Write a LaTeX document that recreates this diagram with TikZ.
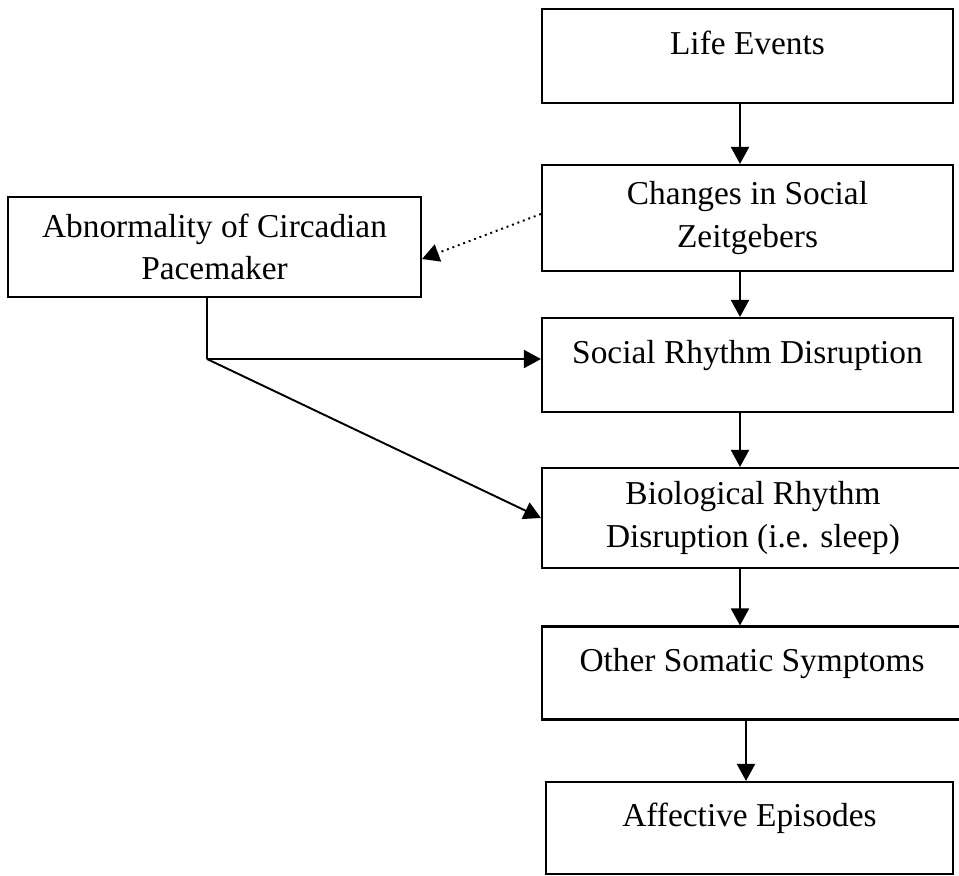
\documentclass[tikz,border=0pt]{standalone}
\usepackage{fontspec}
\setmainfont{Liberation Serif}
\usetikzlibrary{arrows.meta}
\tikzset{
	stage/.style={draw, line width=1.2pt, inner sep=0pt, align=center, font=\fontsize{19}{24}\selectfont},
	hightext/.style={text height=0.5cm, text depth=0.55cm},
	arr/.style={line width=1.1pt, -{Triangle[length=3.4mm, width=3.6mm]}}
}
\begin{document}
\begin{tikzpicture}
		\useasboundingbox (0,0) rectangle (19.18,-17.5);
		\node[stage, hightext, minimum width=8.22cm, minimum height=1.88cm] (life) at (14.95,-1.12) {Life Events};
		\node[stage, minimum width=8.22cm, minimum height=2.12cm] (changes) at (14.95,-4.36) {Changes in Social\\Zeitgebers};
		\node[stage, hightext, minimum width=8.22cm, minimum height=1.88cm] (social) at (14.95,-7.30) {Social Rhythm Disruption};
		\node[stage, minimum width=8.44cm, minimum height=2.0cm] (bio) at (15.06,-10.36) {Biological Rhythm\\Disruption (i.e. sleep)};
		\node[stage, hightext, minimum width=8.40cm, minimum height=1.86cm] (other) at (15.04,-13.46) {Other Somatic Symptoms};
		\node[stage, hightext, minimum width=8.14cm, minimum height=1.84cm] (affect) at (14.99,-16.56) {Affective Episodes};
		\node[stage, minimum width=8.26cm, minimum height=2.0cm] (pace) at (4.29,-4.94) {Abnormality of Circadian\\Pacemaker};
		% main chain
		\draw[arr] ([xshift=-0.15cm]life.south) -- ([xshift=-0.15cm]life.south |- changes.north);
		\draw[arr] ([xshift=-0.15cm]changes.south) -- ([xshift=-0.15cm]changes.south |- social.north);
		\draw[arr] ([xshift=-0.15cm]social.south) -- ([xshift=-0.15cm]social.south |- bio.north);
		\draw[arr] ([xshift=-0.15cm]changes.south |- bio.south) -- ([xshift=-0.15cm]changes.south |- other.north);
		\draw[arr] ([xshift=-0.07cm]affect.north |- other.south) -- ([xshift=-0.07cm]affect.north);
		% pacemaker
		\draw[arr, dash pattern=on 1.1pt off 2.2pt] ([yshift=0.08cm]changes.west) -- ([yshift=-0.24cm]pace.east);
		\coordinate (split) at (4.14,-7.18);
		\draw[line width=1.1pt] ([xshift=-0.15cm]pace.south) -- (split);
		\draw[arr] (split) -- (split -| social.west);
		\draw[arr] (split) -- (bio.west);
	\end{tikzpicture}
\end{document}
